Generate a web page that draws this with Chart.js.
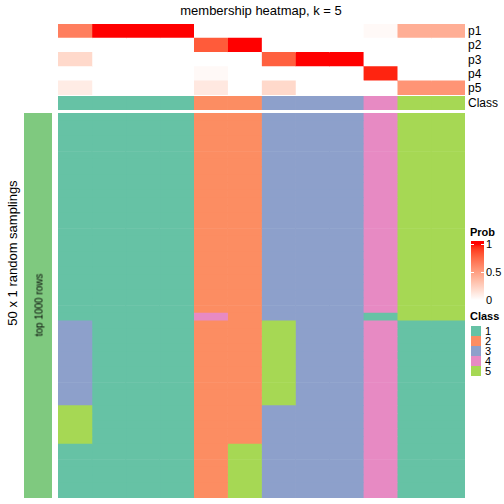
<!DOCTYPE html>
<html><head><meta charset="utf-8">
<script src="https://cdn.jsdelivr.net/npm/chart.js@4/dist/chart.umd.min.js"></script>
<style>
html,body{margin:0;padding:0;background:#fff;}
body{width:504px;height:504px;position:relative;overflow:hidden;font-family:"Liberation Sans",Arial,sans-serif;}
.box{position:absolute;}
.txt{position:absolute;white-space:nowrap;color:#000;}
</style></head><body>
<div class="txt" id="title" style="left:0;width:522px;top:3px;text-align:center;font-size:13px;">membership heatmap, k = 5</div>
<div class="box" style="left:58px;top:24px;width:407px;height:71px;"><canvas id="cProb"></canvas></div>
<div class="box" style="left:58px;top:96px;width:407px;height:14px;"><canvas id="cClass"></canvas></div>
<div class="box" style="left:24px;top:113px;width:28px;height:385px;"><canvas id="cLeft"></canvas></div>
<div class="box" style="left:58px;top:113px;width:407px;height:385px;"><canvas id="cMain"></canvas></div>
<div class="txt" style="left:12px;top:253px;font-size:13px;transform:translate(-50%,-50%) rotate(-90deg);">50 x 1 random samplings</div>
<div class="txt" style="left:39px;top:305px;font-size:10px;transform:translate(-50%,-50%) rotate(-90deg);">top 1000 rows</div>
<div id="rowlabels"></div>
<div id="legend"></div>
<script>
// ---------- data ----------
const samples = ['s1','s2','s3','s4','s5','s6','s7','s8','s9','s10','s11','s12'];
const probLabels = ['p1','p2','p3','p4','p5'];
const p1 = [0.65, 1, 1, 1, 0, 0, 0, 0, 0, 0.03, 0.42, 0.42];
const p2 = [0, 0, 0, 0, 0.80, 1, 0, 0, 0, 0, 0, 0];
const p3 = [0.20, 0, 0, 0, 0, 0, 0.78, 1, 1, 0, 0, 0];
const p4 = [0, 0, 0, 0, 0.03, 0, 0, 0, 0, 0.96, 0, 0];
const p5 = [0.10, 0, 0, 0, 0.12, 0, 0.20, 0, 0, 0, 0.55, 0.55];
const classOfSample = [1, 1, 1, 1, 2, 2, 3, 3, 3, 4, 5, 5];
const classLabel = 'Class';
const classLevels = ['1','2','3','4','5'];
const classColors = ['#66C2A5','#FC8D62','#8DA0CB','#E78AC3','#A6D854'];
const probTicks = ['0','0.5','1'];
// 50 random samplings (rows) x 12 samples: class assigned in each sampling
const samplingClasses = [
 [1,1,1,1,2,2,3,3,3,4,5,5],[1,1,1,1,2,2,3,3,3,4,5,5],[1,1,1,1,2,2,3,3,3,4,5,5],[1,1,1,1,2,2,3,3,3,4,5,5],
 [1,1,1,1,2,2,3,3,3,4,5,5],[1,1,1,1,2,2,3,3,3,4,5,5],[1,1,1,1,2,2,3,3,3,4,5,5],[1,1,1,1,2,2,3,3,3,4,5,5],
 [1,1,1,1,2,2,3,3,3,4,5,5],[1,1,1,1,2,2,3,3,3,4,5,5],[1,1,1,1,2,2,3,3,3,4,5,5],[1,1,1,1,2,2,3,3,3,4,5,5],
 [1,1,1,1,2,2,3,3,3,4,5,5],[1,1,1,1,2,2,3,3,3,4,5,5],[1,1,1,1,2,2,3,3,3,4,5,5],[1,1,1,1,2,2,3,3,3,4,5,5],
 [1,1,1,1,2,2,3,3,3,4,5,5],[1,1,1,1,2,2,3,3,3,4,5,5],[1,1,1,1,2,2,3,3,3,4,5,5],[1,1,1,1,2,2,3,3,3,4,5,5],
 [1,1,1,1,2,2,3,3,3,4,5,5],[1,1,1,1,2,2,3,3,3,4,5,5],[1,1,1,1,2,2,3,3,3,4,5,5],[1,1,1,1,2,2,3,3,3,4,5,5],
 [1,1,1,1,2,2,3,3,3,4,5,5],[1,1,1,1,2,2,3,3,3,4,5,5],
 [1,1,1,1,4,2,3,3,3,1,5,5],
 [3,1,1,1,2,2,5,3,3,4,1,1],[3,1,1,1,2,2,5,3,3,4,1,1],[3,1,1,1,2,2,5,3,3,4,1,1],[3,1,1,1,2,2,5,3,3,4,1,1],
 [3,1,1,1,2,2,5,3,3,4,1,1],[3,1,1,1,2,2,5,3,3,4,1,1],[3,1,1,1,2,2,5,3,3,4,1,1],[3,1,1,1,2,2,5,3,3,4,1,1],
 [3,1,1,1,2,2,5,3,3,4,1,1],[3,1,1,1,2,2,5,3,3,4,1,1],[3,1,1,1,2,2,5,3,3,4,1,1],
 [5,1,1,1,2,2,3,3,3,4,1,1],[5,1,1,1,2,2,3,3,3,4,1,1],[5,1,1,1,2,2,3,3,3,4,1,1],[5,1,1,1,2,2,3,3,3,4,1,1],
 [5,1,1,1,2,2,3,3,3,4,1,1],
 [1,1,1,1,2,5,3,3,3,4,1,1],[1,1,1,1,2,5,3,3,3,4,1,1],[1,1,1,1,2,5,3,3,3,4,1,1],[1,1,1,1,2,5,3,3,3,4,1,1],
 [1,1,1,1,2,5,3,3,3,4,1,1],[1,1,1,1,2,5,3,3,3,4,1,1],[1,1,1,1,2,5,3,3,3,4,1,1]
];
const leftAnnoLabel = 'top 1000 rows';
const leftAnnoColor = '#7FC97F';

// ---------- colour: white -> red in LAB ----------
function srgbToLin(c){c/=255;return c<=0.04045?c/12.92:Math.pow((c+0.055)/1.055,2.4);}
function linToSrgb(c){c=Math.max(0,Math.min(1,c));const v=c<=0.0031308?12.92*c:1.055*Math.pow(c,1/2.4)-0.055;return Math.round(v*255);}
function rgbToLab(r,g,b){
  const R=srgbToLin(r),G=srgbToLin(g),B=srgbToLin(b);
  let X=(0.4124*R+0.3576*G+0.1805*B)/0.95047, Y=(0.2126*R+0.7152*G+0.0722*B), Z=(0.0193*R+0.1192*G+0.9505*B)/1.08883;
  const f=t=>t>0.008856?Math.cbrt(t):7.787*t+16/116;
  const fx=f(X),fy=f(Y),fz=f(Z);
  return [116*fy-16,500*(fx-fy),200*(fy-fz)];
}
function labToRgb(L,a,b){
  const fy=(L+16)/116, fx=fy+a/500, fz=fy-b/200;
  const fi=t=>t*t*t>0.008856?t*t*t:(t-16/116)/7.787;
  const X=fi(fx)*0.95047, Y=fi(fy), Z=fi(fz)*1.08883;
  const R=3.2406*X-1.5372*Y-0.4986*Z, G=-0.9689*X+1.8758*Y+0.0415*Z, B=0.0557*X-0.2040*Y+1.0570*Z;
  return [linToSrgb(R),linToSrgb(G),linToSrgb(B)];
}
const labW=rgbToLab(255,255,255), labR=rgbToLab(255,0,0);
function probColor(t){
  const L=labW[0]+(labR[0]-labW[0])*t, a=labW[1]+(labR[1]-labW[1])*t, b=labW[2]+(labR[2]-labW[2])*t;
  const c=labToRgb(L,a,b); return `rgb(${c[0]},${c[1]},${c[2]})`;
}
const clsColor = k => classColors[classLevels.indexOf(String(k))];

// ---------- common options ----------
function baseOptions(){
  return {
    indexAxis:'y', responsive:true, maintainAspectRatio:false, animation:false,
    layout:{padding:0},
    plugins:{legend:{display:false},tooltip:{enabled:false},title:{display:false}},
    datasets:{bar:{barPercentage:1,categoryPercentage:1,borderWidth:0}},
    scales:{
      x:{type:'linear',stacked:true,min:0,max:samples.length,display:false},
      y:{type:'category',stacked:true,display:false}
    }
  };
}
function makeDatasets(nRows, colorOf){
  return samples.map((s,j)=>({
    label:s,
    data:Array.from({length:nRows},()=>1),
    backgroundColor:Array.from({length:nRows},(_,i)=>colorOf(i,j))
  }));
}

// prob matrix
const probMatrix=[p1,p2,p3,p4,p5];
new Chart(document.getElementById('cProb'),{type:'bar',
  data:{labels:probLabels,datasets:makeDatasets(probLabels.length,(i,j)=>probColor(probMatrix[i][j]))},
  options:baseOptions()});
// class annotation
new Chart(document.getElementById('cClass'),{type:'bar',
  data:{labels:[classLabel],datasets:makeDatasets(1,(i,j)=>clsColor(classOfSample[j]))},
  options:baseOptions()});
// main heatmap
const rowLabels=samplingClasses.map((_,i)=>'r'+(i+1));
new Chart(document.getElementById('cMain'),{type:'bar',
  data:{labels:rowLabels,datasets:makeDatasets(rowLabels.length,(i,j)=>clsColor(samplingClasses[i][j]))},
  options:baseOptions()});
// left annotation
new Chart(document.getElementById('cLeft'),{type:'bar',
  data:{labels:[leftAnnoLabel],datasets:[{data:[1],backgroundColor:leftAnnoColor,barPercentage:1,categoryPercentage:1,borderWidth:0}]},
  options:{responsive:true,maintainAspectRatio:false,animation:false,layout:{padding:0},
    plugins:{legend:{display:false},tooltip:{enabled:false}},
    scales:{x:{display:false},y:{display:false,min:0,max:1}}}});

// ---------- row labels ----------
let rl='';
const rowH=71/probLabels.length;
probLabels.forEach((p,i)=>{rl+=`<div class="txt" style="left:468px;top:${(24+rowH*(i+0.5)-7).toFixed(1)}px;font-size:12px;line-height:14px;">${p}</div>`;});
rl+=`<div class="txt" style="left:468px;top:96px;font-size:12px;line-height:14px;">${classLabel}</div>`;
document.getElementById('rowlabels').innerHTML=rl;

// ---------- legends ----------
const lg=document.getElementById('legend');
let html='';
html+=`<div class="txt" style="left:470px;top:226px;font-size:11px;font-weight:bold;">Prob</div>`;
let stops=[];
for(let k=0;k<=20;k++){const t=1-k/20; stops.push(`${probColor(t)} ${(3+k/20*56).toFixed(1)}px`);}
html+=`<div class="box" style="left:471px;top:241px;width:13px;height:62px;background:linear-gradient(to bottom, ${probColor(1)} 0px, ${stops.join(',')});"></div>`;
[[1,244],[0.5,272]].forEach(([v,y])=>{
  html+=`<div class="box" style="left:471px;top:${y}px;width:3px;height:1px;background:#fff;"></div>`;
  html+=`<div class="box" style="left:481px;top:${y}px;width:3px;height:1px;background:#fff;"></div>`;
});
const tickPos={'1':244,'0.5':272,'0':300};
probTicks.forEach(t=>{html+=`<div class="txt" style="left:486px;top:${tickPos[t]-7}px;font-size:11px;line-height:14px;">${t}</div>`;});
html+=`<div class="txt" style="left:470px;top:310px;font-size:11px;font-weight:bold;">Class</div>`;
classLevels.forEach((c,i)=>{
  html+=`<div class="box" style="left:471px;top:${326+i*10}px;width:10px;height:10px;background:${classColors[i]};"></div>`;
  html+=`<div class="txt" style="left:485px;top:${326+i*10-2}px;font-size:11px;line-height:14px;">${c}</div>`;
});
lg.innerHTML=html;
</script>
</body></html>
